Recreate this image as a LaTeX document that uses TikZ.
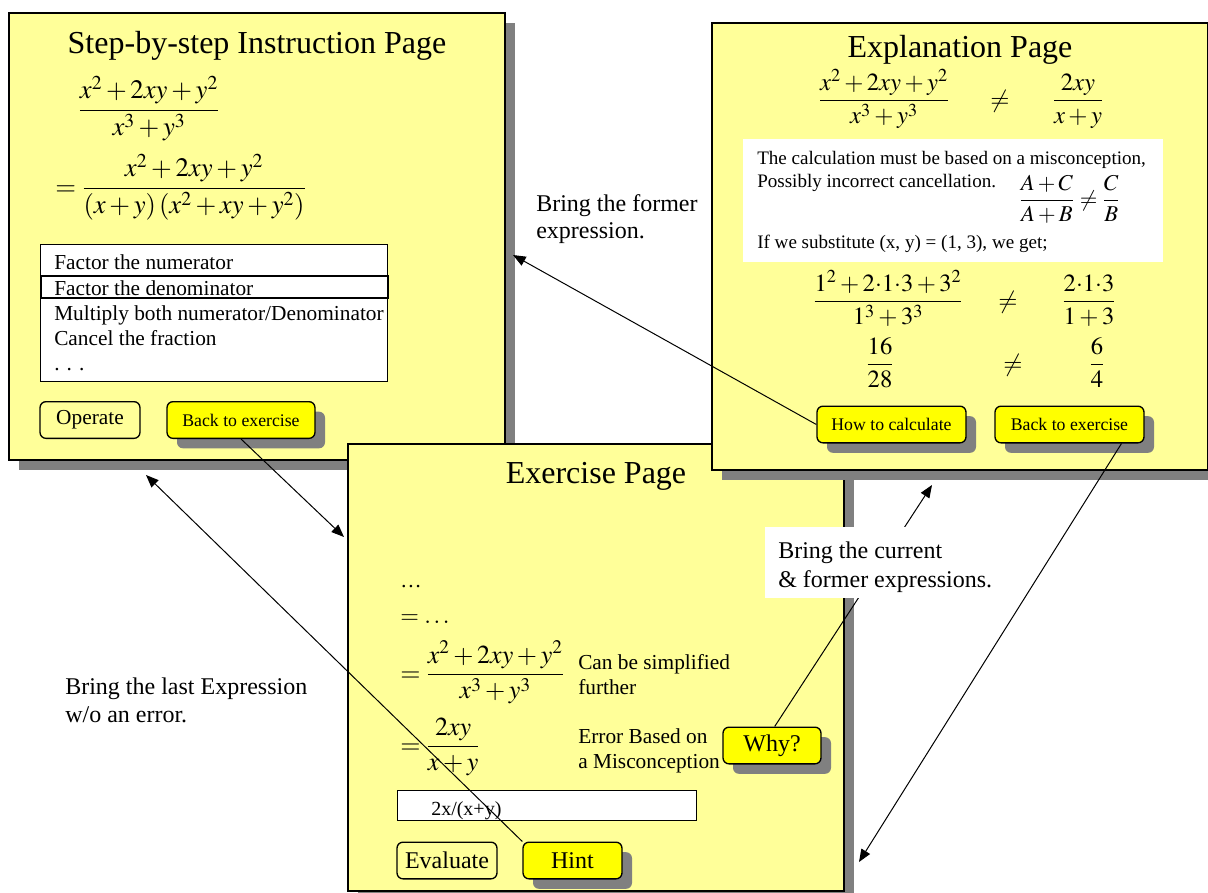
\documentclass[tikz,border=0pt]{standalone}
\usepackage{mathptmx}
\usepackage{fontspec}
\setmainfont{Liberation Serif}
\usetikzlibrary{arrows.meta,shadows}
\definecolor{paneltint}{HTML}{FFFF99}
\definecolor{btnyellow}{HTML}{FFFF00}
\definecolor{shgray}{HTML}{808080}
\tikzset{
  shad/.style={drop shadow={opacity=1, fill=shgray, shadow xshift=7.5pt, shadow yshift=-7.5pt}},
  panel/.style={draw=black, line width=1pt, fill=paneltint, minimum width=372pt, minimum height=335.25pt, inner sep=0pt, shad},
  btnbase/.style={draw=black, line width=1pt, rounded corners=4.5pt, inner sep=0pt, minimum height=27.5pt},
  litebtn/.style={btnbase, fill=paneltint},
  yelbtn/.style={btnbase, fill=btnyellow, shad},
  txt/.style={anchor=base west, inner sep=0pt, font=\fontsize{16}{19}\selectfont},
  smalltxt/.style={anchor=base west, inner sep=0pt, font=\fontsize{14.3}{17}\selectfont},
  lbl/.style={anchor=base west, inner sep=0pt, font=\fontsize{18}{21}\selectfont},
  pagetitle/.style={anchor=base, inner sep=0pt, font=\fontsize{24}{28}\selectfont},
  mth/.style={anchor=base, inner sep=0pt, font=\fontsize{#1}{#1}\selectfont},
  mthw/.style={anchor=base west, inner sep=0pt, font=\fontsize{#1}{#1}\selectfont},
  boxw/.style={draw=black, line width=0.75pt, fill=white, anchor=north west, inner sep=0pt},
  conn/.style={line width=0.75pt, -{Triangle[length=9.5pt,width=7.5pt]}},
}
\begin{document}
\begin{tikzpicture}[x=0.75pt,y=-0.75pt]
\useasboundingbox (0,0) rectangle (1208,893);

% ---------- Step-by-step Instruction Page ----------
\node[panel] (p1) at (257,236.5) {};
\node[pagetitle] (t1) at (257,53) {Step-by-step Instruction Page};
\node[mth=20] (f1a) at (149,117) {$\displaystyle\frac{x^2+2xy+y^2}{x^3+y^3}$};
\node[mthw=20] (f1b) at (55,195) {$=\displaystyle\frac{x^2+2xy+y^2}{\left(x+y\right)\left(x^2+xy+y^2\right)}$};
\node[boxw, minimum width=260.25pt, minimum height=102.75pt] (list) at (40,244) {};
\node[draw=black, line width=1.5pt, anchor=north west, inner sep=0pt, minimum width=260.25pt, minimum height=16.5pt] (hl) at (40,275) {};
\node[txt] (i1) at (54,269) {Factor the numerator};
\node[txt] (i2) at (54,295) {Factor the denominator};
\node[txt] (i3) at (54,320) {Multiply both numerator/Denominator};
\node[txt] (i4) at (54,345) {Cancel the fraction};
\node[txt] (i5) at (54,370) {. . .};
\node[litebtn, minimum width=75pt, font=\fontsize{16}{19}\selectfont] (operate) at (90,420) {Operate};
\node[yelbtn, minimum width=111pt, font=\fontsize{13.3}{16}\selectfont] (back1) at (241,420) {Back to exercise};

% ---------- Exercise Page ----------
\node[panel] (p3) at (596,667.5) {};
\node[pagetitle] (t3) at (596,483) {Exercise Page};
\node[txt] (d1) at (400,587) {\ldots};
\node[mthw=18] (d2) at (400,623) {$=\ldots$};
\node[mthw=19.5] (e1) at (400,681) {$=\displaystyle\frac{x^2+2xy+y^2}{x^3+y^3}$};
\node[txt] (c1) at (578,669) {Can be simplified};
\node[txt] (c2) at (578,694) {further};
\node[mthw=19.5] (e2) at (400,753) {$=\displaystyle\frac{2xy}{x+y}$};
\node[txt] (m1) at (578,743) {Error Based on};
\node[txt] (m2) at (578,768) {a Misconception};
\node[yelbtn, minimum width=73.5pt, font=\fontsize{18}{21}\selectfont] (why) at (772,745.5) {Why?};
\node[boxw, minimum width=224.25pt, minimum height=22.5pt] (input) at (397,790) {};
\node[anchor=base west, inner sep=0pt, font=\fontsize{15}{18}\selectfont] (inputtxt) at (431,815) {2x/(x+y)};
\node[litebtn, minimum width=75pt, font=\fontsize{18}{21}\selectfont] (evaluate) at (447,860.5) {Evaluate};
\node[yelbtn, minimum width=74.25pt, font=\fontsize{18}{21}\selectfont] (hint) at (572.5,860.5) {Hint};

% ---------- Explanation Page ----------
\node[panel] (p2) at (960,246.5) {};
\node[pagetitle] (t2) at (960,57) {Explanation Page};
\node[mth=18.5] (xa) at (884,107) {$\displaystyle\frac{x^2+2xy+y^2}{x^3+y^3}$};
\node[mth=18.5] (xn1) at (1000,107) {$\neq$};
\node[mth=18.5] (xb) at (1078,107) {$\displaystyle\frac{2xy}{x+y}$};
\node[fill=white, anchor=north west, inner sep=0pt, minimum width=315pt, minimum height=92.25pt] (wb) at (743,139) {};
\node[smalltxt] (w1) at (757,164) {The calculation must be based on a misconception,};
\node[smalltxt] (w2) at (757,187) {Possibly incorrect cancellation.};
\node[mthw=17] (ab) at (1019,206) {$\displaystyle\frac{A+C}{A+B}\neq\frac{C}{B}$};
\node[smalltxt] (w3) at (757,248) {If we substitute (x, y) = (1, 3), we get;};
\node[mth=18.5] (ya) at (888,308) {$\displaystyle\frac{1^2+2{\cdot}1{\cdot}3+3^2}{1^3+3^3}$};
\node[mth=18.5] (yn) at (1008,308) {$\neq$};
\node[mth=18.5] (yb) at (1089,308) {$\displaystyle\frac{2{\cdot}1{\cdot}3}{1+3}$};
\node[mth=18.5] (za) at (880,371) {$\displaystyle\frac{16}{28}$};
\node[mth=18.5] (zn) at (1013,371) {$\neq$};
\node[mth=18.5] (zb) at (1097,371) {$\displaystyle\frac{6}{4}$};
\node[yelbtn, minimum width=111.75pt, font=\fontsize{13.3}{16}\selectfont] (how) at (891.5,424.5) {How to calculate};
\node[yelbtn, minimum width=111.75pt, font=\fontsize{13.3}{16}\selectfont] (back2) at (1069.5,424.5) {Back to exercise};

% ---------- free labels ----------
\node[lbl] (fa) at (536,211) {Bring the former};
\node[lbl] (fb) at (536,238) {expression.};
\node[lbl] (la) at (65,694) {Bring the last Expression};
\node[lbl] (lb) at (65,722) {w/o an error.};

% ---------- connectors ----------
\coordinate (tipFormer) at (513,255);
\coordinate (tipEx) at (344,537);
\coordinate (tipStep) at (146,475);
\coordinate (tipExpl) at (932,485);
\coordinate (tipEx2) at (859,862);
\draw[conn] (how.west) -- (tipFormer);
\draw[conn] (back1.south) -- (tipEx);
\draw[conn] (hint.north west) -- (tipStep);
\draw[conn] ([xshift=2pt]why.north) -- (tipExpl);
\draw[conn] ([xshift=39pt]back2.south) -- (tipEx2);

% label over the connector
\node[fill=white, anchor=north west, inner sep=0pt, minimum width=176.25pt, minimum height=53.25pt] (curbg) at (765,527) {};
\node[lbl] (ca) at (778,558) {Bring the current};
\node[lbl] (cb) at (778,587) {\& former expressions.};
\end{tikzpicture}
\end{document}
